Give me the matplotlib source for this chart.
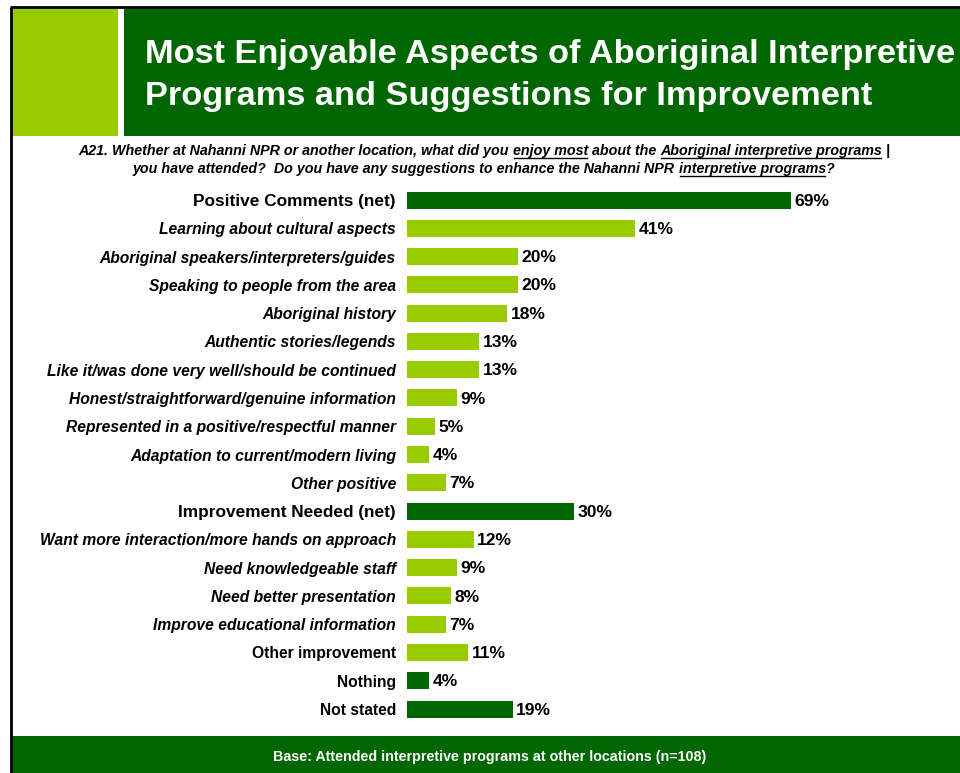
import matplotlib
matplotlib.use("Agg")
import matplotlib.pyplot as plt
from matplotlib.patches import Rectangle
from matplotlib.lines import Line2D
from matplotlib import font_manager

plt.rcParams['font.family'] = ['Liberation Sans', 'DejaVu Sans']

categories = [
    "Positive Comments (net)",
    "Learning about cultural aspects",
    "Aboriginal speakers/interpreters/guides",
    "Speaking to people from the area",
    "Aboriginal history",
    "Authentic stories/legends",
    "Like it/was done very well/should be continued",
    "Honest/straightforward/genuine information",
    "Represented in a positive/respectful manner",
    "Adaptation to current/modern living",
    "Other positive",
    "Improvement Needed (net)",
    "Want more interaction/more hands on approach",
    "Need knowledgeable staff",
    "Need better presentation",
    "Improve educational information",
    "Other improvement",
    "Nothing",
    "Not stated",
]
values = [69, 41, 20, 20, 18, 13, 13, 9, 5, 4, 7, 30, 12, 9, 8, 7, 11, 4, 19]
# 'net' = dark summary rows, 'plain' = dark single rows, 'item' = light italic detail,
# 'other' = light upright detail
row_kind = ["net", "item", "item", "item", "item", "item", "item", "item", "item",
            "item", "item", "net", "item", "item", "item", "item", "other", "plain", "plain"]

DARK = "#006600"
LIGHT = "#99CC00"

W, H = 960, 773
fig = plt.figure(figsize=(W / 100, H / 100), dpi=100)


def fx(px):
    return px / W


def fy(py):
    return 1 - py / H


# frame lines
fig.add_artist(Line2D([fx(10.5), fx(10.5)], [fy(6.5), fy(773)], color="black", lw=2,
                      solid_capstyle="butt", transform=fig.transFigure))
fig.add_artist(Line2D([fx(9.5), fx(960)], [fy(6.5), fy(6.5)], color="black", lw=2,
                      solid_capstyle="butt", transform=fig.transFigure))

# header blocks
fig.add_artist(Rectangle((fx(12), fy(136)), fx(118 - 12), (136 - 8) / H,
                         transform=fig.transFigure, color=LIGHT, lw=0))
fig.add_artist(Rectangle((fx(124), fy(136)), fx(960 - 124), (136 - 8) / H,
                         transform=fig.transFigure, color=DARK, lw=0))
fig.text(fx(145), fy(63), "Most Enjoyable Aspects of Aboriginal Interpretive",
         color="white", fontsize=24.75, fontweight="bold", ha="left", va="baseline")
fig.text(fx(145), fy(105), "Programs and Suggestions for Improvement",
         color="white", fontsize=24.75, fontweight="bold", ha="left", va="baseline")

# footer band with a condensed bold face when one is installed
fig.add_artist(Rectangle((fx(12), 0), fx(960 - 12), (773 - 736) / H,
                         transform=fig.transFigure, color=DARK, lw=0))
narrow_bold = [f for f in font_manager.fontManager.ttflist
               if "Narrow" in f.name and "Liberation" in f.name
               and (f.weight in ("bold", 700) or (isinstance(f.weight, int) and f.weight >= 600))
               and f.style == "normal"]
if narrow_bold:
    foot_prop = font_manager.FontProperties(fname=narrow_bold[0].fname, size=11.3)
else:
    foot_prop = font_manager.FontProperties(family="Liberation Sans", weight="bold", size=10.3)
fig.text(fx(490), fy(757), "Base: Attended interpretive programs at other locations (n=108)",
         color="white", ha="center", va="center", fontproperties=foot_prop)

# question text with underlined phrases
q_lines = [
    [("A21. Whether at Nahanni NPR or another location, what did you ", False),
     ("enjoy most", True), (" about the ", False),
     ("Aboriginal interpretive programs", True), (" |", False)],
    [("you have attended?  Do you have any suggestions to enhance the Nahanni NPR ", False),
     ("interpretive programs", True), ("?", False)],
]
q_baselines = [155, 173]
q_center = 484

fig.canvas.draw()
renderer = fig.canvas.get_renderer()
for segs, base in zip(q_lines, q_baselines):
    texts = []
    x = 0.0
    for s, ul in segs:
        t = fig.text(0, fy(base), s, fontsize=10.3, fontweight="bold", fontstyle="italic",
                     ha="left", va="baseline")
        bb = t.get_window_extent(renderer)
        texts.append((t, x, bb.width, ul))
        x += bb.width
    start = q_center - x / 2
    for t, off, w, ul in texts:
        t.set_x(fx(start + off))
        if ul:
            fig.add_artist(Line2D([fx(start + off + 1), fx(start + off + w - 1)],
                                  [fy(base + 2.5), fy(base + 2.5)], color="black", lw=1,
                                  transform=fig.transFigure))

# bar chart
px_per_pct = 5.56
ax_left, ax_right = 407, 907
row_top, row_bot = 200, 709
n = len(categories)
step = (row_bot - row_top) / (n - 1)
ax_top = row_top - step / 2
ax_bottom = row_bot + step / 2
ax = fig.add_axes([fx(ax_left), fy(ax_bottom), fx(ax_right - ax_left), (ax_bottom - ax_top) / H])
ax.set_xlim(0, (ax_right - ax_left) / px_per_pct)
ax.set_ylim(n - 0.5, -0.5)

ypos = list(range(n))
colors = [DARK if k in ("net", "plain") else LIGHT for k in row_kind]
ax.barh(ypos, values, height=17 / step, color=colors, lw=0)
for y, v in zip(ypos, values):
    ax.annotate(f"{v}%", (v, y), xytext=(2.5, -0.8), textcoords="offset points",
                ha="left", va="center", fontsize=12.6, fontweight="bold", color="black")

ax.set_yticks(ypos)
ax.set_yticklabels(categories)
for lab, k in zip(ax.get_yticklabels(), row_kind):
    lab.set_fontweight("bold")
    lab.set_fontsize(12.4 if k == "net" else 11.25)
    lab.set_fontstyle("italic" if k == "item" else "normal")
ax.tick_params(axis="y", length=0, pad=8)
ax.set_xticks([])
for sp in ax.spines.values():
    sp.set_visible(False)
ax.patch.set_visible(False)

fig.savefig("out.png", dpi=100)
